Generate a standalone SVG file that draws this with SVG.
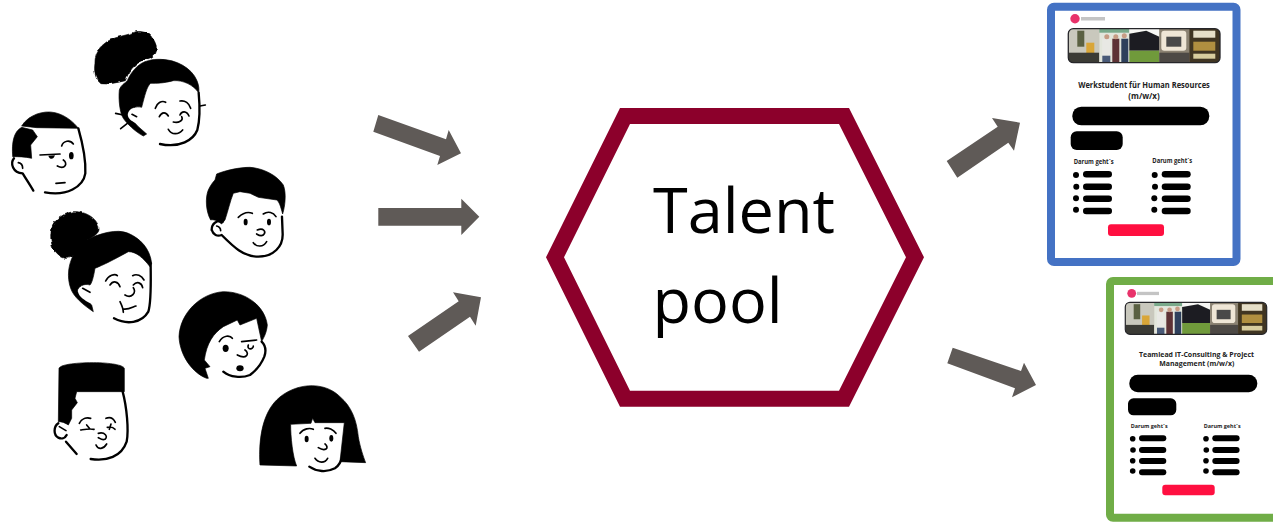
<svg xmlns="http://www.w3.org/2000/svg" xmlns:xlink="http://www.w3.org/1999/xlink" width="1273" height="522" viewBox="0 0 1273 522">
<style>
.h{fill:#000;stroke:#000;stroke-width:2;stroke-linejoin:round}
.l{fill:none;stroke:#000;stroke-width:5;stroke-linecap:round;stroke-linejoin:round}
.t{stroke-width:7}
.e{fill:#fff;stroke:none}
.arrow{fill:#5f5a57}
.card{fill:#fff;stroke-width:8}
.title{font-family:"Open Sans","Liberation Sans",sans-serif;font-weight:700;fill:#222;text-anchor:middle}
.sub{font-family:"Open Sans","Liberation Sans",sans-serif;font-weight:700;fill:#222}
.big{font-family:"Open Sans","Liberation Sans",sans-serif;font-size:63px;fill:#000}
</style>
<defs>
<filter id="soft" x="-5%" y="-5%" width="110%" height="110%"><feGaussianBlur stdDeviation="0.6"/></filter>
<filter id="rough" x="-10%" y="-10%" width="120%" height="120%" color-interpolation-filters="sRGB"><feTurbulence type="fractalNoise" baseFrequency="0.06" numOctaves="1" seed="4"/><feDisplacementMap in="SourceGraphic" scale="12" xChannelSelector="R" yChannelSelector="G"/></filter>
<clipPath id="stripClip"><rect x="0" y="0" width="151.7" height="34" rx="5"/></clipPath>
<g id="strip">
<g clip-path="url(#stripClip)" filter="url(#soft)">
<rect width="151.7" height="34" fill="#b9b3a6"/>
<rect x="0" y="0" width="31" height="34" fill="#c9c8bd"/>
<rect x="9" y="2" width="7" height="16" fill="#5a6142"/>
<rect x="18" y="14" width="8" height="15" fill="#d9a637"/>
<rect x="0" y="24" width="31" height="10" fill="#3b3a34"/>
<rect x="31" y="0" width="30" height="34" fill="#e3e6dc"/>
<rect x="31" y="0" width="30" height="4" fill="#79a98a"/>
<rect x="34" y="10" width="8" height="17" fill="#e8e8e4"/>
<rect x="34" y="27" width="8" height="7" fill="#4a5a78"/>
<rect x="44" y="10" width="7" height="24" fill="#5d3236"/>
<rect x="53" y="10" width="7" height="24" fill="#2f3f5c"/>
<circle cx="38.500" cy="8" r="2.500" fill="#c79c85"/>
<circle cx="47.500" cy="8" r="2.500" fill="#c79c85"/>
<circle cx="56" cy="7" r="2.500" fill="#c79c85"/>
<rect x="61" y="0" width="30" height="34" fill="#f7f7f5"/>
<polygon points="61,5 78,2 91,8 91,22 61,22" fill="#1d1f22"/>
<rect x="61" y="22" width="30" height="12" fill="#6f9a3a"/>
<rect x="91" y="0" width="30" height="34" fill="#8b8272"/>
<rect x="93" y="2" width="25" height="20" rx="3" fill="#efe6d6"/>
<rect x="98" y="8" width="15" height="10" fill="#4a4a48"/>
<rect x="91" y="24" width="30" height="10" fill="#4d4a45"/>
<rect x="121" y="0" width="31" height="34" fill="#3f3420"/>
<rect x="125" y="2" width="22" height="7" fill="#e6dfc8"/>
<rect x="125" y="13" width="22" height="9" fill="#b08f3f"/>
<rect x="125" y="25" width="22" height="5" fill="#d8cd9e"/>
</g>
<rect x="0" y="0" width="151.7" height="34" rx="5" fill="none" stroke="#26262a" stroke-width="1.300"/>
</g>
</defs>

<g id="connectors">
<polygon class="arrow" points="378.300,115 373.300,131.700 440,156 437.300,165 461,153.300 448.700,130 446,139.300"/>
<polygon class="arrow" points="378.300,208 461.300,208 461.300,198.700 479.300,216.700 461.300,235 461.300,225.700 378.300,225.700"/>
<polygon class="arrow" points="408,336 419,351.700 470,316.700 475.700,325.700 481,297.300 453,292.300 458.700,301.300"/>
<polygon class="arrow" points="946.700,161 957.300,177.700 1008.300,142.700 1014,150.700 1020,122.700 992,118 997.700,126.700"/>
<polygon class="arrow" points="952.700,347.700 947.300,363.300 1015,388.300 1012,397.300 1036,385 1024,362.700 1021,371"/>
</g>

<g id="talent-pool">
<path fill="#8c002b" fill-rule="evenodd" d="M620 108H849L924 257.300L849 406.700H620L546 257.300ZM630 124L564 257.300L630 390.700H839L906 257.300L839 124Z"/>
<text class="big" x="653" y="233">Talent</text>
<text class="big" x="652.500" y="322.700">pool</text>
</g>

<g id="person-bun-top" transform="translate(0,20) scale(.3333)">
<path class="h" filter="url(#rough)" d="M285 130C285 100 295 85 312 72C335 50 380 48 408 35C430 33 450 40 455 52C468 65 472 85 467 100C455 116 440 117 428 122C402 132 386 155 376 182C350 188 325 194 303 191C288 180 281 160 285 130Z"/>
<path class="h" d="M382 182C392 158 415 128 445 122C460 118 470 118 480 118C530 118 575 145 590 180C597 195 598 210 596 218C580 195 550 180 520 182C490 190 470 190 452 190C440 200 435 225 425 262C410 258 390 262 382 285L415 320L440 342L430 348C405 335 380 310 370 295C360 280 355 240 358 210C362 195 375 190 382 182Z"/>
<path class="l" d="M347 280L370 285M362 326L385 308"/>
<path class="e" d="M384 288C382 270 400 258 420 268L412 312C398 305 386 298 384 288Z"/>
<path class="l" d="M396 283L410 290"/>
<path class="l t" d="M596 218C600 260 600 300 592 330C580 360 540 385 480 372"/>
<path class="l" d="M600 258L616 255M466 265C470 250 485 240 497 247M540 243C555 240 568 250 572 265M478 290C485 275 498 275 505 288M540 285C545 272 560 272 567 288M520 306C535 310 552 302 545 290M505 328C515 345 535 345 548 330"/>
</g>

<g id="person-man-left" transform="translate(0,20) scale(.3333)">
<path class="h" d="M65 318C85 285 130 270 165 278C195 285 220 305 235 325L110 323Z"/>
<path class="h" d="M38 408C35 370 40 335 65 322L98 330L112 350L92 375L95 415C75 410 55 410 38 410Z"/>
<path class="l t" d="M42 415C30 430 38 458 68 460C80 480 90 495 100 512M235 325C245 360 258 420 256 460C250 500 200 530 135 517"/>
<path class="l" d="M55 428C65 430 68 438 68 445M185 378C190 362 210 358 220 372M120 405L180 402M190 420C205 430 195 450 172 438M168 490L195 488"/>
<ellipse cx="214" cy="407" rx="7" ry="11"/>
<path d="M145 407C150 420 160 420 165 406Z"/>
</g>

<g id="person-boy-right" transform="translate(0,20) scale(.3333)">
<path class="h" d="M632 600C618 575 615 535 625 510C632 495 640 485 645 480L650 462C680 450 720 442 750 442C790 445 830 465 850 495C860 520 855 560 848 582C842 560 838 545 830 540L775 532L750 520L720 515L700 520C690 545 685 570 675 600L665 612C650 600 640 598 632 600Z"/>
<path class="l t" d="M635 630C635 610 650 600 668 605M635 630C640 645 652 650 665 645C700 680 730 710 775 710C820 710 850 680 848 640L846 590"/>
<path class="l" d="M650 618C658 620 662 625 662 632M715 592C730 578 745 575 757 580M790 582C805 572 820 578 828 590M772 630C790 622 800 635 790 645C782 650 775 645 770 642M760 668C770 682 790 682 800 665"/>
<ellipse cx="737" cy="606" rx="6" ry="10"/>
<ellipse cx="807" cy="606" rx="6" ry="10"/>
</g>

<g id="person-bun-left" transform="translate(40,205) scale(.3333)">
<path class="h" filter="url(#rough)" d="M33 85C33 55 60 26 100 20C142 18 177 45 177 75C172 92 152 97 142 107C122 127 102 162 75 160C48 152 28 120 33 85Z"/>
<path class="h" d="M140 105C180 85 230 70 265 85C300 100 330 130 335 175L330 185C310 160 290 140 265 140C220 165 190 180 165 190C160 220 155 235 150 240C130 235 115 245 112 258L155 300L160 320C130 300 100 275 92 250C80 215 85 180 100 150C115 130 125 115 140 105Z"/>
<path class="e" d="M114 260C116 242 140 236 157 246L152 295C132 285 117 275 114 260Z"/>
<path class="l" d="M128 250L150 262"/>
<path class="l t" d="M332 175C332 220 335 290 325 320C305 355 260 360 222 340"/>
<path class="l" d="M197 228C205 210 225 205 232 212M278 212C290 205 305 212 312 225M210 240C220 225 235 230 240 245M280 240C290 228 305 232 308 248M280 248C290 262 275 282 255 270M240 290C245 300 250 310 250 322M250 312C265 315 280 305 288 303"/>
</g>

<g id="person-short-hair" transform="translate(30,270) scale(.3333)">
<path class="h" d="M530 325C490 310 450 260 447 200C450 130 510 70 580 65C650 65 705 110 712 165C710 190 700 205 695 215L680 145L630 165L622 150L580 170C550 190 530 220 523 270L540 290L525 295L535 325Z"/>
<path class="l t" d="M695 215C705 225 710 240 703 260C695 280 680 300 660 315C635 325 600 322 580 305"/>
<path class="l" d="M568 215C580 195 600 195 607 205M635 215L680 210M655 225C650 240 670 240 670 228M645 240C660 250 650 270 622 255"/>
<ellipse cx="587" cy="235" rx="9" ry="11"/>
<ellipse cx="630" cy="295" rx="11" ry="9"/>
</g>

<g id="person-flat-top" transform="translate(30,270) scale(.3333)">
<path class="h" d="M87 295C90 285 130 278 190 278C240 278 280 285 283 295L283 365L140 365L135 385L142 398L125 420L125 445L115 465C100 455 90 455 85 455Z"/>
<path class="l t" d="M85 460C70 470 70 495 85 503C95 508 105 505 110 495M108 515L140 552M278 365C290 410 297 480 290 515C275 560 230 575 182 567"/>
<path class="l" d="M88 470L108 482M148 460C155 445 170 442 182 445M228 445C240 440 250 445 256 457M152 480C165 478 180 475 192 478M170 465L180 477M232 472C240 470 250 472 255 478M243 462L238 478M205 490C225 485 235 500 225 508C215 512 210 505 205 503M198 525C205 540 220 538 230 522"/>
</g>

<g id="person-bob" transform="translate(30,270) scale(.3333)">
<path class="h" d="M690 585C685 500 700 430 740 390C790 340 880 330 930 380C965 410 980 450 985 500C990 530 1000 560 1007 578L930 575L943 458L855 458L848 445L843 460L782 463C782 500 788 560 800 588Z"/>
<path class="l t" d="M838 590C860 605 890 608 915 595C930 585 935 570 938 555"/>
<path class="l" d="M810 490C820 475 840 473 850 478M885 475C895 473 910 478 918 490M865 533C885 545 900 535 885 522M855 565C865 580 885 580 893 565"/>
<ellipse cx="830" cy="507" rx="6" ry="10"/>
<ellipse cx="904" cy="505" rx="6" ry="10"/>
</g>

<g id="job-card-hr">
<rect class="card" x="1051" y="6.700" width="185.500" height="255.300" rx="3" stroke="#4472c4"/>
<circle cx="1075" cy="18.700" r="4.700" fill="#e8336b" filter="url(#soft)"/>
<rect x="1081" y="17" width="24" height="3.500" fill="#c4c4c4" filter="url(#soft)"/>
<use xlink:href="#strip" href="#strip" transform="translate(1068.300,28.700)"/>
<text class="title" x="1144" y="88.300" font-size="8" textLength="131.700" lengthAdjust="spacingAndGlyphs">Werkstudent für Human Resources</text>
<text class="title" x="1144" y="99" font-size="8">(m/w/x)</text>
<rect x="1072.300" y="106.700" width="137" height="18.600" rx="9"/>
<rect x="1070.700" y="131.300" width="52" height="18.700" rx="6"/>
<text class="sub" x="1073.700" y="163.700" font-size="6.500" textLength="40" lengthAdjust="spacingAndGlyphs">Darum geht´s</text>
<text class="sub" x="1152.300" y="163" font-size="6.500" textLength="40" lengthAdjust="spacingAndGlyphs">Darum geht´s</text>
<circle cx="1076" cy="175" r="3"/><circle cx="1076.300" cy="186.700" r="3"/><circle cx="1076" cy="198.300" r="3"/><circle cx="1076" cy="209.700" r="3"/>
<rect x="1083" y="171" width="29" height="6.600" rx="3.300"/><rect x="1083" y="183.400" width="29" height="6.600" rx="3.300"/><rect x="1083" y="195.400" width="29" height="6.600" rx="3.300"/><rect x="1083" y="207.700" width="29" height="6.600" rx="3.300"/>
<circle cx="1154.700" cy="175" r="3"/><circle cx="1155" cy="186.700" r="3"/><circle cx="1154.300" cy="198.300" r="3"/><circle cx="1154.300" cy="209.700" r="3"/>
<rect x="1161.700" y="171" width="29" height="6.600" rx="3.300"/><rect x="1161.700" y="183.400" width="29" height="6.600" rx="3.300"/><rect x="1161.700" y="195.400" width="29" height="6.600" rx="3.300"/><rect x="1161.700" y="207.700" width="29" height="6.600" rx="3.300"/>
<rect x="1108" y="224.300" width="56" height="11.700" rx="3" fill="#ff0f40"/>
</g>

<g id="job-card-it">
<rect class="card" x="1110" y="281" width="185" height="236.700" rx="3" stroke="#70ad47"/>
<circle cx="1131.700" cy="293.300" r="4.400" fill="#e8336b" filter="url(#soft)"/>
<rect x="1137" y="291.800" width="22" height="3.300" fill="#c4c4c4" filter="url(#soft)"/>
<use xlink:href="#strip" href="#strip" transform="translate(1125.300,302.300) scale(.932,.941)"/>
<text class="title" x="1196.500" y="356.700" font-size="7.500" textLength="115" lengthAdjust="spacingAndGlyphs">Teamlead IT-Consulting &amp; Project</text>
<text class="title" x="1196.800" y="366" font-size="7.500" textLength="75" lengthAdjust="spacingAndGlyphs">Management (m/w/x)</text>
<rect x="1129.300" y="374.700" width="128" height="17.600" rx="8.500"/>
<rect x="1128" y="398.300" width="48.300" height="17" rx="5.500"/>
<text class="sub" x="1130.700" y="428.300" font-size="6" textLength="37" lengthAdjust="spacingAndGlyphs">Darum geht´s</text>
<text class="sub" x="1203.700" y="428.300" font-size="6" textLength="37" lengthAdjust="spacingAndGlyphs">Darum geht´s</text>
<circle cx="1132.700" cy="438.700" r="2.800"/><circle cx="1133" cy="450" r="2.800"/><circle cx="1132.700" cy="460.700" r="2.800"/><circle cx="1132.700" cy="471" r="2.800"/>
<rect x="1139" y="435.300" width="27.300" height="6" rx="3"/><rect x="1139" y="447" width="27.300" height="6" rx="3"/><rect x="1139" y="458" width="27.300" height="6" rx="3"/><rect x="1139" y="469.300" width="27.300" height="6" rx="3"/>
<circle cx="1206" cy="438.700" r="2.800"/><circle cx="1206.300" cy="450" r="2.800"/><circle cx="1206" cy="460.700" r="2.800"/><circle cx="1206" cy="471" r="2.800"/>
<rect x="1212.300" y="435.300" width="27.300" height="6" rx="3"/><rect x="1212.300" y="447" width="27.300" height="6" rx="3"/><rect x="1212.300" y="458" width="27.300" height="6" rx="3"/><rect x="1212.300" y="469.300" width="27.300" height="6" rx="3"/>
<rect x="1162.300" y="484.700" width="52.400" height="10.600" rx="3" fill="#ff0f40"/>
</g>
</svg>
